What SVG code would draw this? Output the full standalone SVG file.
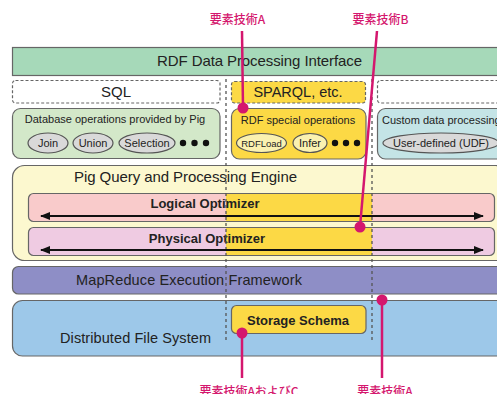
<svg xmlns="http://www.w3.org/2000/svg" width="497" height="394" viewBox="0 0 497 394">
<style>
.t{font-family:"Liberation Sans",Arial,sans-serif;fill:#222}
.b{font-weight:bold}
.bx{stroke:#666;stroke-width:1.2}
.dash{stroke:#666;stroke-width:1.2;stroke-dasharray:3,2}
.el{fill:#d9d9d9;stroke:#555;stroke-width:1.2}
.ely{fill:#faf1b0;stroke:#555;stroke-width:1.2}
.dot{fill:#111}
.y{fill:#fcd945}
.vd{stroke:#555;stroke-width:1.3;stroke-dasharray:3,3;fill:none}
.arr{stroke:#111;stroke-width:2;fill:none}
.m{stroke:#d4176e;stroke-width:2.5;fill:none}
.md{fill:#d4176e}
.ann{font-family:"Noto Sans CJK JP",sans-serif;fill:#d4176e;font-size:12px;font-weight:500}
</style>
<defs>
<marker id="ah" viewBox="0 0 10 8" refX="9" refY="4" markerWidth="5" markerHeight="4" orient="auto-start-reverse" markerUnits="strokeWidth">
<path d="M0,0 L10,4 L0,8 Z" fill="#111"/>
</marker>
</defs>
<rect width="497" height="394" fill="#fff"/>

<g id="interface">
<rect class="bx" x="12.5" y="47.5" width="490" height="28" fill="#a6d9b9"/>
<text class="t" x="259.5" y="66" font-size="15" text-anchor="middle" textLength="205" lengthAdjust="spacing">RDF Data Processing Interface</text>
</g>

<g id="sql">
<rect class="dash" x="12.5" y="80.5" width="207.5" height="22.5" rx="3" fill="#fff"/>
<text class="t" x="116" y="97" font-size="15" text-anchor="middle">SQL</text>
</g>

<g id="sparql">
<rect class="dash" x="231.5" y="81.5" width="134" height="21.5" rx="3" fill="#fcd945"/>
<text class="t" x="298" y="97" font-size="14.5" text-anchor="middle">SPARQL, etc.</text>
</g>

<g id="other-lang">
<rect class="dash" x="377.5" y="80.5" width="130" height="22.5" rx="3" fill="#fff"/>
</g>

<g id="db-ops">
<rect class="bx" x="12.5" y="108.5" width="207.5" height="50" rx="8" fill="#d3e8c9"/>
<text class="t" x="115" y="123" font-size="11" text-anchor="middle">Database operations provided by Pig</text>
<ellipse class="el" cx="48" cy="143" rx="20" ry="10"/>
<text class="t" x="48" y="147" font-size="11" text-anchor="middle">Join</text>
<ellipse class="el" cx="93" cy="143" rx="20" ry="10"/>
<text class="t" x="93" y="147" font-size="11" text-anchor="middle">Union</text>
<ellipse class="el" cx="147" cy="143" rx="28" ry="10"/>
<text class="t" x="147" y="147" font-size="11" text-anchor="middle">Selection</text>
<circle class="dot" cx="183" cy="143" r="3.2"/>
<circle class="dot" cx="194.5" cy="143" r="3.2"/>
<circle class="dot" cx="206" cy="143" r="3.2"/>
</g>

<g id="rdf-ops">
<rect class="bx" x="231.5" y="108.5" width="134.5" height="50.5" rx="8" fill="#fcd945"/>
<text class="t" x="298" y="124" font-size="11" text-anchor="middle">RDF special operations</text>
<ellipse class="ely" cx="261.5" cy="143" rx="25" ry="9.5"/>
<text class="t" x="261.5" y="146.5" font-size="9.5" text-anchor="middle">RDFLoad</text>
<ellipse class="ely" cx="310" cy="143" rx="17" ry="9.5"/>
<text class="t" x="310" y="147" font-size="11" text-anchor="middle">Infer</text>
<circle class="dot" cx="335" cy="143" r="3.2"/>
<circle class="dot" cx="346" cy="143" r="3.2"/>
<circle class="dot" cx="357" cy="143" r="3.2"/>
</g>

<g id="custom">
<rect class="bx" x="377.5" y="108.5" width="130" height="50.5" rx="8" fill="#c4e4e6"/>
<text class="t" x="382" y="124" font-size="11">Custom data processing</text>
<ellipse class="el" cx="441" cy="143" rx="58" ry="10"/>
<text class="t" x="441" y="147" font-size="11" text-anchor="middle">User-defined (UDF)</text>
</g>

<g id="pig">
<rect class="bx" x="12.5" y="165.5" width="495" height="95" rx="12" fill="#fcf8cf"/>
<text class="t" x="185.5" y="182" font-size="15" text-anchor="middle" textLength="223" lengthAdjust="spacing">Pig Query and Processing Engine</text>
</g>

<g id="logical">
<rect x="28.5" y="193.5" width="466" height="28" rx="5" fill="#f9cbcb"/>
<rect class="y" x="226" y="194" width="146" height="27"/>
<rect class="bx" x="28.5" y="193.5" width="466" height="28" rx="5" fill="none"/>
<text class="t b" x="205" y="208" font-size="13" text-anchor="middle">Logical Optimizer</text>
</g>

<g id="physical">
<rect x="28.5" y="227.5" width="466" height="28" rx="5" fill="#efcbe2"/>
<rect class="y" x="226" y="228" width="146" height="27"/>
<rect class="bx" x="28.5" y="227.5" width="466" height="28" rx="5" fill="none"/>
<text class="t b" x="207" y="243" font-size="13" text-anchor="middle">Physical Optimizer</text>
</g>

<g id="mapreduce">
<rect class="bx" x="12.5" y="266.5" width="495" height="27.5" rx="6" fill="#8e8ec6"/>
<text class="t" x="76" y="285" font-size="14.5" textLength="226" lengthAdjust="spacing">MapReduce Execution Framework</text>
</g>

<g id="dfs">
<rect class="bx" x="12.5" y="300.5" width="495" height="55.5" rx="10" fill="#9dc8e9"/>
<text class="t" x="60" y="343" font-size="14.5" textLength="151" lengthAdjust="spacing">Distributed File System</text>
</g>

<g id="storage">
<rect class="bx" x="231.5" y="305.5" width="134.5" height="28" rx="5" fill="#fcd945"/>
<text class="t b" x="298" y="325" font-size="13" text-anchor="middle">Storage Schema</text>
</g>

<g id="connectors">
<line class="vd" x1="226" y1="79" x2="226" y2="343"/>
<line class="vd" x1="372" y1="79" x2="372" y2="343"/>
<line class="arr" x1="41" y1="216" x2="483" y2="216" marker-start="url(#ah)" marker-end="url(#ah)"/>
<line class="arr" x1="41" y1="250" x2="483" y2="250" marker-start="url(#ah)" marker-end="url(#ah)"/>
<line class="m" x1="242" y1="31" x2="243" y2="108"/>
<circle class="md" cx="243" cy="108" r="5.5"/>
<line class="m" x1="377" y1="31" x2="360" y2="227"/>
<circle class="md" cx="360" cy="227" r="5.5"/>
<line class="m" x1="242" y1="333" x2="242" y2="378"/>
<circle class="md" cx="242" cy="333" r="5.5"/>
<line class="m" x1="382" y1="300" x2="382" y2="378"/>
<circle class="md" cx="382" cy="300" r="5.5"/>
</g>

<g id="annotations">
<text class="ann" x="237.5" y="24" text-anchor="middle">要素技術A</text>
<text class="ann" x="380.5" y="24" text-anchor="middle">要素技術B</text>
<text class="ann" x="249" y="396" text-anchor="middle">要素技術AおよびC</text>
<text class="ann" x="385" y="396" text-anchor="middle">要素技術A</text>
</g>
</svg>
